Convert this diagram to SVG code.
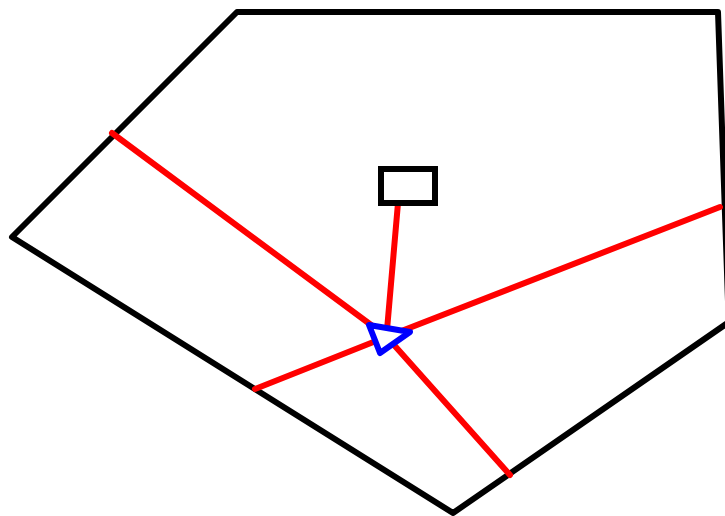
<svg xmlns="http://www.w3.org/2000/svg" width="725" height="516" viewBox="0 0 725 516">
<style>
.edge{fill:none;stroke:#000;stroke-width:6;stroke-linejoin:round;stroke-linecap:round}
.red{fill:none;stroke:#ff0000;stroke-width:6;stroke-linejoin:round;stroke-linecap:round}
</style>
<rect width="725" height="516" fill="#fff"/>
<g id="outline">
<polyline class="edge" points="729,322 453,513 12,237 237,12 718,12 729,330"/>
</g>
<g id="connectors">
<polyline class="red" points="112,133 386,336 510,475"/>
<polyline class="red" points="255,389 386,337 720,207"/>
<line class="red" x1="398" y1="203" x2="387" y2="330"/>
</g>
<g id="box">
<rect x="381" y="169" width="54" height="34" fill="#fff" stroke="#000" stroke-width="6"/>
</g>
<g id="triangle">
<polygon points="369,325 410,332 380,353" fill="#fff" stroke="#0000ff" stroke-width="6" stroke-linejoin="round"/>
</g>
</svg>
